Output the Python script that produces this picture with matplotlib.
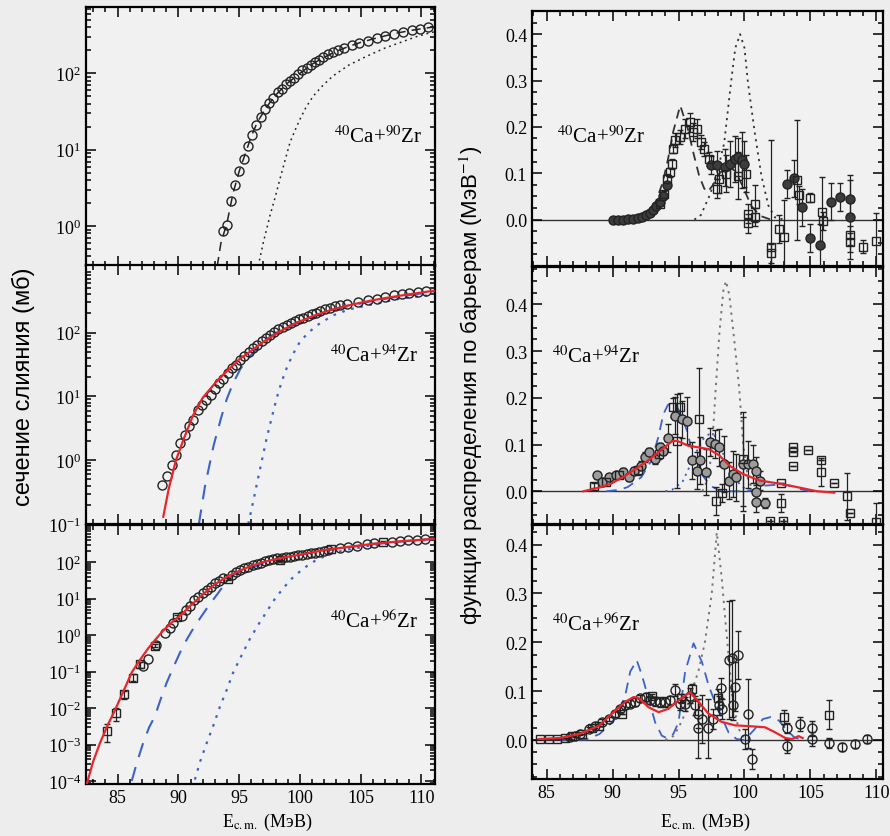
import matplotlib
matplotlib.use("Agg")
import matplotlib.pyplot as plt
from matplotlib.ticker import MultipleLocator, LogLocator, NullFormatter, FixedLocator

plt.rcParams['font.family'] = ['Liberation Serif', 'DejaVu Serif']
plt.rcParams['mathtext.fontset'] = 'stix'

# ---------------- left column: fusion cross sections (mb) ----------------
# 40Ca + 90Zr
lt_e = [93.64, 94.02, 94.32, 94.68, 95.0, 95.37, 95.7, 96.03, 96.38, 96.77, 97.12, 97.48, 97.8,
        98.16, 98.5, 98.85, 99.18, 99.53, 99.86, 100.2, 100.55, 100.9, 101.2, 101.6, 101.9, 102.3,
        102.7, 103.1, 103.6, 104.25, 104.9, 105.6, 106.3, 107.0, 107.7, 108.5, 109.2, 109.9, 110.55]
lt_sig = [0.87, 1.04, 2.1, 3.5, 5.3, 7.5, 11.3, 15.5, 21, 27, 34, 41.5, 48, 57, 63, 72, 79, 88, 97,
          110, 119, 130, 141, 152, 163, 178, 190, 202, 214, 234, 251, 269, 290, 309, 330, 351, 368, 380, 400]
lt_cc_e = [93.2, 93.5, 94.0, 94.5, 95.0, 95.5, 96.0, 96.5, 97.0, 97.5, 98.0, 99.0, 100.0, 101.0,
           102.0, 103.0, 104.0, 105.0, 106.0, 107.0, 108.0, 109.0, 110.0, 111.0]
lt_cc_sig = [0.3, 0.6, 1.1, 2.7, 5.2, 8.8, 15, 23, 31, 41, 52, 75, 100, 132, 163, 195, 225, 255,
             282, 310, 338, 362, 385, 405]
lt_nc_e = [96.57, 97.0, 97.53, 98.0, 98.35, 98.8, 99.18, 99.6, 100.0, 100.5, 101.1, 101.9, 102.7,
           104.0, 105.5, 107.0, 108.2, 109.5, 110.7, 111.1]
lt_nc_sig = [0.3, 0.62, 1.36, 2.5, 4.1, 7.5, 12.4, 18, 25, 36, 50.5, 70, 92, 128, 168, 215, 252,
             300, 340, 352]

# 40Ca + 94Zr
lm_e = [88.68, 89.04, 89.45, 89.78, 90.13, 90.54, 90.9, 91.2, 91.6, 91.96, 92.3, 92.68, 93.0, 93.36,
        93.69, 94.05, 94.38, 94.74, 95.07, 95.42, 95.78, 96.1, 96.49, 96.85, 97.2, 97.5, 97.9, 98.2,
        98.57, 98.9, 99.26, 99.59, 99.94, 100.27, 100.63, 100.96, 101.3, 101.64, 102.05, 102.46,
        102.88, 103.29, 103.84, 104.8, 105.6, 106.3, 107.0, 107.7, 108.4, 109.0, 109.7, 110.4]
lm_sig = [0.41, 0.56, 0.85, 1.2, 1.86, 2.5, 3.4, 4.3, 6.2, 7.3, 8.7, 10.4, 13.3, 16, 19, 23, 27.5,
          31.6, 37, 43, 50, 58, 65, 73, 83, 93, 103, 113, 123, 133, 144, 152, 161, 171, 182, 193,
          205, 218, 231, 243, 258, 267, 277, 302, 320, 340, 360, 383, 406, 422, 432, 450]
lm_red_e = [88.76, 89.2, 89.8, 90.5, 91.2, 92.0, 93.0, 94.0, 95.0, 96.0, 97.0, 98.0, 99.0, 100.0,
            101.0, 102.0, 103.0, 104.0, 105.0, 106.0, 107.0, 108.0, 109.0, 110.0, 111.0]
lm_red_sig = [0.13, 0.35, 1.0, 2.3, 5.0, 9.5, 16, 25, 38, 52, 72, 95, 122, 150, 180, 210, 240, 268,
              295, 322, 348, 373, 400, 425, 455]
lm_cc_e = [91.69, 92.2, 92.9, 93.5, 94.0, 94.5, 95.1, 96.0, 96.7, 97.5, 98.6, 99.5, 100.5, 102.0,
           104.0, 106.0, 108.0, 110.0, 111.0]
lm_cc_sig = [0.1, 0.4, 1.7, 4.5, 9.3, 16, 27, 45, 63, 85, 116, 138, 163, 205, 262, 315, 365, 412, 438]
lm_nc_e = [95.75, 96.1, 96.44, 96.85, 97.26, 97.7, 98.08, 98.5, 98.9, 99.4, 100.0, 100.7, 101.4,
           102.7, 104.0, 105.5, 107.0, 108.2, 109.5, 110.9]
lm_nc_sig = [0.1, 0.2, 0.41, 0.95, 2.2, 4.8, 9.3, 17, 27.5, 45, 72, 100, 130, 186, 230, 267, 305,
             340, 365, 390]

# 40Ca + 96Zr
lb_c_e = [87.1, 87.47, 88.2, 88.89, 89.3, 89.57, 90.27, 90.62, 90.95, 91.3, 91.64, 92.0, 92.33,
          92.68, 93.0, 93.36, 93.7, 94.38, 94.73, 95.07, 95.42, 95.75, 96.1, 96.44, 96.79, 97.1,
          97.48, 97.8, 98.1, 98.5, 98.85, 99.2, 99.53, 99.85, 100.2, 100.55, 100.9, 101.25, 101.6,
          101.95, 102.3, 103.3, 103.97, 104.66, 105.5, 106.1, 107.54, 108.2, 108.9, 109.6, 110.3]
lb_c_sig = [0.14, 0.22, 0.55, 1.15, 1.6, 2.1, 3.4, 4.9, 6.5, 9.2, 11.4, 14.1, 17.3, 21.5, 26.7, 31,
            37, 45, 53, 60, 68, 75, 83, 90, 97, 106, 113, 121, 128, 132, 137, 143, 149, 155, 162,
            169, 176, 184, 192, 205, 220, 249, 265, 288, 320, 335, 363, 382, 397, 406, 422]
lb_s_e = [84.1, 84.87, 85.55, 86.29, 86.84, 88.07, 89.9, 94.1, 98.35, 102.55, 106.8]
lb_s_sig = [0.0024, 0.0074, 0.024, 0.069, 0.16, 0.52, 3.2, 35, 113, 238, 357]
lb_s_err = [0.0012, 0.003, 0.006, 0.015, 0.03, 0.05, 0.3, 2, 6, 10, 15]
lb_red_e = [82.45, 83.0, 83.55, 84.2, 84.8, 85.5, 86.16, 86.8, 87.5, 88.1, 88.76, 89.5, 90.3, 91.0,
            92.0, 93.0, 94.0, 95.0, 96.0, 97.0, 98.0, 99.0, 100.0, 102.0, 104.0, 106.0, 108.0, 110.0, 111.0]
lb_red_sig = [8e-5, 3.5e-4, 1.1e-3, 3.5e-3, 9e-3, 0.03, 0.095, 0.2, 0.43, 0.75, 1.35, 2.3, 3.8, 6.5,
              13, 25, 40, 58, 80, 102, 122, 142, 162, 215, 265, 320, 370, 415, 440]
lb_cc_e = [86.16, 86.6, 87.1, 87.6, 88.07, 88.5, 89.04, 89.7, 90.4, 91.1, 91.78, 92.5, 93.15, 93.8,
           94.5, 95.5, 97.0, 99.0, 102.0, 106.0, 110.0, 111.0]
lb_cc_sig = [1e-4, 3.3e-4, 1.1e-3, 3e-3, 6e-3, 0.016, 0.05, 0.16, 0.52, 1.3, 2.9, 6.5, 12.6, 25, 45,
             60, 95, 140, 212, 318, 413, 437]
lb_nc_e = [91.36, 91.8, 92.33, 92.9, 93.42, 94.0, 94.51, 95.2, 95.89, 96.6, 97.26, 97.9, 98.63, 99.3,
           100.0, 100.7, 101.4, 102.7, 104.0, 105.5, 107.0, 108.2, 109.5, 110.8]
lb_nc_sig = [1.1e-4, 3.5e-4, 1.1e-3, 3.5e-3, 0.011, 0.033, 0.095, 0.28, 0.8, 2.0, 4.4, 9.5, 19.5, 35,
             56, 85, 118, 180, 225, 277, 315, 342, 380, 422]

# ---------------- right column: barrier distributions (1/MeV) ----------------
# 40Ca + 90Zr
rt_f_e = [90.0, 90.38, 90.77, 91.15, 91.54, 91.92, 92.26, 92.57, 92.82, 93.08, 93.33, 93.59, 93.8,
          94.1, 97.44, 97.9, 98.5, 98.9, 99.3, 99.5, 99.8, 100.0, 103.2, 103.72, 104.36, 105.0,
          105.7, 106.55, 107.25, 107.97, 107.97]
rt_f_v = [0.0, 0.0, 0.0, 0.001, 0.002, 0.003, 0.006, 0.009, 0.014, 0.021, 0.029, 0.039, 0.052, 0.075,
          0.118, 0.117, 0.113, 0.12, 0.131, 0.135, 0.128, 0.12, 0.077, 0.089, 0.027, -0.04, -0.055,
          0.039, 0.049, 0.045, 0.006]
rt_f_err = [0, 0, 0, 0, 0, 0, 0, 0, 0, 0, 0, 0, 0, 0, 0.02, 0.03, 0.04, 0.05, 0.05, 0.04, 0.06,
            0.05, 0.03, 0.04, 0.04, 0.03, 0.045, 0.04, 0.03, 0.04, 0.09]
rt_s_e = [93.59, 93.9, 94.1, 94.36, 94.5, 94.6, 94.75, 95.13, 95.52, 95.9, 96.1, 96.4, 96.67, 96.92,
          97.3, 97.9, 98.1, 98.6, 99.5, 100.13, 100.3, 100.3, 100.8, 100.8, 102.0, 102.0, 102.6,
          103.0, 104.0, 104.1, 105.0, 105.9, 105.95, 107.97, 107.97, 108.99, 109.96]
rt_s_v = [0.034, 0.056, 0.088, 0.102, 0.12, 0.153, 0.171, 0.178, 0.196, 0.21, 0.189, 0.196, 0.167,
          0.153, 0.131, 0.067, 0.088, 0.099, 0.095, 0.099, 0.013, -0.008, 0.034, 0.006, -0.058,
          -0.073, -0.02, -0.037, 0.085, 0.053, 0.047, 0.017, -0.003, -0.034, -0.049, -0.058, -0.046]
rt_s_err = [0.005, 0.005, 0.01, 0.01, 0.01, 0.01, 0.015, 0.015, 0.02, 0.02, 0.02, 0.02, 0.015, 0.015,
            0.015, 0.02, 0.03, 0.04, 0.05, 0.04, 0.02, 0.02, 0.04, 0.02, 0.23, 0.02, 0.03, 0.08,
            0.13, 0.02, 0.01, 0.075, 0.02, 0.02, 0.02, 0.015, 0.06]
rt_cc_e = [91.0, 92.0, 92.8, 93.3, 93.8, 94.2, 94.6, 95.13, 95.7, 96.17, 96.56, 96.95, 97.2, 97.6,
           98.1, 98.7, 99.3, 99.9, 100.5, 101.2, 102.0]
rt_cc_v = [0.0, 0.005, 0.02, 0.04, 0.08, 0.13, 0.19, 0.246, 0.196, 0.139, 0.095, 0.067, 0.06, 0.074,
           0.1, 0.115, 0.105, 0.07, 0.03, 0.008, 0.0]
rt_nc_e = [96.2, 96.7, 97.4, 98.0, 98.46, 98.98, 99.3, 99.67, 100.0, 100.26, 100.77, 101.28, 101.8,
           102.3, 103.0]
rt_nc_v = [0.0, 0.01, 0.055, 0.11, 0.165, 0.296, 0.37, 0.40, 0.37, 0.296, 0.189, 0.095, 0.031,
           0.005, 0.0]

# 40Ca + 94Zr
rm_c_e = [88.85, 89.23, 89.74, 90.25, 90.77, 91.28, 91.66, 92.18, 92.43, 92.8, 93.2, 93.58, 93.85,
          94.23, 94.74, 95.25, 95.64, 96.0, 96.4, 96.66, 97.05, 97.4, 97.8, 98.08, 98.46, 98.79,
          99.1, 99.36, 99.87, 100.25, 100.64, 100.9, 101.2, 100.9, 100.85, 101.56]
rm_c_v = [0.034, 0.019, 0.030, 0.034, 0.041, 0.030, 0.044, 0.055, 0.073, 0.083, 0.069, 0.094, 0.087,
          0.115, 0.162, 0.154, 0.151, 0.066, 0.044, 0.066, 0.041, 0.105, 0.101, 0.094, 0.058, 0.023,
          0.037, 0.030, 0.058, 0.058, 0.058, 0.044, 0.023, -0.002, -0.024, -0.025]
rm_c_err = [0.008, 0.008, 0.008, 0.008, 0.008, 0.008, 0.008, 0.01, 0.01, 0.01, 0.01, 0.01, 0.01,
            0.03, 0.04, 0.04, 0.05, 0.04, 0.04, 0.05, 0.05, 0.03, 0.03, 0.04, 0.06, 0.04, 0.05, 0.05,
            0.1, 0.05, 0.04, 0.03, 0.02, 0.02, 0.02, 0.01]
rm_s_e = [88.6, 89.5, 90.5, 91.9, 93.5, 94.6, 94.87, 95.1, 96.54, 97.87, 98.3, 99.87, 101.9, 102.8,
          102.8, 102.9, 103.7, 103.7, 103.7, 104.8, 105.8, 105.8, 106.8, 107.8, 108.0, 110.0]
rm_s_v = [0.012, 0.02, 0.035, 0.045, 0.08, 0.18, 0.108, 0.18, 0.154, -0.02, -0.004, 0.069, -0.064,
          0.018, -0.025, -0.063, 0.094, 0.083, 0.055, 0.088, 0.066, 0.041, 0.017, -0.011, -0.047, -0.065]
rm_s_err = [0.005, 0.005, 0.005, 0.01, 0.01, 0.02, 0.1, 0.03, 0.11, 0.03, 0.02, 0.1, 0.0, 0.0, 0.02,
            0.0, 0.0, 0.0, 0.0, 0.0, 0.0, 0.03, 0.0, 0.05, 0.0, 0.04]
rm_red_e = [87.8, 89.0, 89.87, 90.9, 91.92, 92.6, 93.2, 93.9, 94.5, 94.87, 95.3, 95.77, 96.54, 97.3,
            98.08, 98.85, 99.87, 101.15, 102.7, 103.97, 105.5, 106.8]
rm_red_v = [0.0, 0.008, 0.016, 0.032, 0.051, 0.064, 0.077, 0.093, 0.107, 0.108, 0.103, 0.097, 0.094,
            0.09, 0.077, 0.055, 0.037, 0.023, 0.016, 0.009, 0.0, -0.003]
rm_cc_e = [89.5, 90.5, 91.15, 92.18, 92.95, 93.46, 93.85, 94.2, 94.6, 95.0, 95.64, 95.9, 96.3, 96.8,
           97.4, 98.0, 99.0, 100.0, 100.8, 101.5, 102.5, 103.5, 104.3, 105.0]
rm_cc_v = [0.0, 0.003, 0.009, 0.03, 0.066, 0.115, 0.165, 0.185, 0.19, 0.175, 0.13, 0.10, 0.07, 0.035,
           0.012, 0.003, 0.0, 0.0, 0.004, 0.012, 0.014, 0.012, 0.004, 0.0]
rm_c2_e = [94.0, 94.5, 95.3, 96.28, 96.8, 97.3, 97.7, 98.1, 98.6, 99.2, 99.8, 100.4]
rm_c2_v = [0.0, 0.003, 0.02, 0.08, 0.11, 0.122, 0.12, 0.1, 0.065, 0.03, 0.01, 0.0]
rm_nc_e = [96.8, 97.3, 97.6, 97.82, 98.1, 98.4, 98.6, 98.85, 99.2, 99.6, 99.9, 100.3, 100.8]
rm_nc_v = [0.0, 0.03, 0.12, 0.22, 0.34, 0.43, 0.45, 0.42, 0.33, 0.22, 0.1, 0.02, 0.0]

# 40Ca + 96Zr
rb_c_e = [86.79, 87.17, 87.55, 88.18, 88.69, 89.2, 89.7, 90.2, 90.6, 90.96, 91.34, 91.72, 92.1, 92.5,
          92.86, 93.24, 93.6, 94.0, 94.37, 94.75, 95.13, 95.5, 95.9, 96.26, 96.5, 96.77, 96.5, 97.27,
          97.65, 98.03, 98.28, 98.2, 98.79, 99.04, 99.29, 99.54, 99.16, 100.3, 100.05, 100.55, 103.2,
          103.2, 104.2, 105.15, 105.15, 106.4, 107.37, 108.4, 109.3]
rb_c_v = [0.0058, 0.0089, 0.0124, 0.0227, 0.028, 0.037, 0.043, 0.054, 0.064, 0.071, 0.074, 0.078,
          0.085, 0.088, 0.081, 0.079, 0.078, 0.078, 0.081, 0.102, 0.074, 0.074, 0.091, 0.071, 0.054,
          0.043, 0.024, 0.024, 0.043, 0.071, 0.064, 0.107, 0.164, 0.167, 0.109, 0.174, 0.071, 0.054,
          0.002, -0.039, 0.024, -0.012, 0.033, 0.024, 0.002, -0.006, -0.015, -0.008, 0.002]
rb_c_err = [0.003, 0.003, 0.003, 0.004, 0.004, 0.005, 0.005, 0.006, 0.006, 0.007, 0.007, 0.008,
            0.008, 0.008, 0.008, 0.01, 0.01, 0.01, 0.01, 0.012, 0.012, 0.015, 0.015, 0.02, 0.03,
            0.05, 0.06, 0.06, 0.02, 0.02, 0.02, 0.02, 0.12, 0.12, 0.05, 0.05, 0.03, 0.07, 0.02, 0.02,
            0.01, 0.015, 0.015, 0.015, 0.015, 0.01, 0.008, 0.008, 0.008]
rb_s_e = [84.52, 85.15, 85.78, 86.4, 86.9, 87.68, 88.44, 88.94, 90.71, 93.0, 95.2, 96.0, 98.0, 103.0, 106.4]
rb_s_v = [0.002, 0.002, 0.002, 0.004, 0.0076, 0.0124, 0.024, 0.0296, 0.054, 0.09, 0.085, 0.105,
          0.085, 0.047, 0.052]
rb_s_err = [0, 0, 0, 0, 0, 0, 0, 0, 0, 0.005, 0.01, 0.01, 0.02, 0.015, 0.03]
rb_red_e = [84.4, 86.0, 87.5, 89.0, 90.2, 90.96, 91.6, 91.97, 92.73, 93.49, 94.24, 95.0, 95.89, 96.52,
            97.27, 98.28, 99.29, 100.55, 101.56, 102.3, 103.1, 103.6, 104.1, 104.4]
rb_red_v = [0.002, 0.004, 0.0124, 0.0296, 0.06, 0.078, 0.088, 0.086, 0.067, 0.057, 0.064, 0.081,
            0.098, 0.078, 0.054, 0.037, 0.030, 0.028, 0.026, 0.016, 0.004, 0.002, 0.008, 0.004]
rb_cc_e = [86.0, 88.0, 89.0, 89.96, 90.5, 90.96, 91.34, 91.84, 92.22, 92.73, 93.23, 93.73, 94.1, 94.6,
           95.0, 95.5, 96.14, 96.77, 97.3, 97.8, 98.3, 98.8, 99.4, 100.0, 100.7, 101.4, 102.0, 102.6,
           103.2, 103.8, 104.5]
rb_cc_v = [0.0, 0.001, 0.012, 0.036, 0.06, 0.091, 0.14, 0.163, 0.133, 0.085, 0.036, 0.009, 0.004,
           0.012, 0.036, 0.14, 0.198, 0.16, 0.11, 0.075, 0.045, 0.015, 0.002, 0.0, 0.02, 0.043, 0.047,
           0.04, 0.02, 0.005, 0.0]
rb_nc_e = [94.0, 94.6, 95.0, 95.6, 96.0, 96.5, 97.0, 97.52, 97.9, 98.28, 98.5, 98.8, 99.1, 99.55,
           100.0, 100.5]
rb_nc_v = [0.0, 0.008, 0.025, 0.06, 0.1, 0.14, 0.2, 0.30, 0.425, 0.33, 0.26, 0.17, 0.08, 0.023,
           0.003, 0.0]

labels = [r'$^{40}$Ca+$^{90}$Zr', r'$^{40}$Ca+$^{94}$Zr', r'$^{40}$Ca+$^{96}$Zr']

RED = '#e8252b'
BLUE = '#3d62c8'
BG = '#ededed'

fig = plt.figure(figsize=(8.9, 8.37), dpi=100, facecolor=BG)

left_pos = [[0.0966, 0.681, 0.392, 0.3094],
            [0.0966, 0.3728, 0.392, 0.3094],
            [0.0966, 0.0621, 0.392, 0.3094]]
right_pos = [[0.5978, 0.681, 0.3944, 0.3047],
             [0.5978, 0.3728, 0.3944, 0.307],
             [0.5978, 0.068, 0.3944, 0.3035]]


def frame(ax):
    ax.set_facecolor('#f1f1f1')
    for s in ax.spines.values():
        s.set_linewidth(1.6)
    ax.tick_params(which='both', direction='in', top=True, right=True, labelsize=13, width=1.1)
    ax.tick_params(which='major', length=7)
    ax.tick_params(which='minor', length=3.5)


def circ(ax, x, y, err=None, face='none', ms=6.5):
    ax.errorbar(x, y, yerr=err, fmt='o', ms=ms, mfc=face, mec='#222222', mew=1.0,
                ecolor='#222222', elinewidth=0.9, capsize=2.5, zorder=4)


def sq(ax, x, y, err=None):
    ax.errorbar(x, y, yerr=err, fmt='s', ms=5.5, mfc='none', mec='#222222', mew=1.0,
                ecolor='#222222', elinewidth=0.9, capsize=2.5, zorder=4)


# ---- left column ----
axl = [fig.add_axes(p) for p in left_pos]
ylims = [(0.3, 740), (0.1, 1150), (8.3e-5, 1050)]
yticks = [[1, 10, 100], [0.1, 1, 10, 100], [1e-4, 1e-3, 1e-2, 1e-1, 1, 10, 100]]
for ax, yl, yt in zip(axl, ylims, yticks):
    frame(ax)
    ax.set_yscale('log')
    ax.set_xlim(82.4, 111.1)
    ax.set_ylim(*yl)
    ax.yaxis.set_major_locator(FixedLocator(yt))
    ax.yaxis.set_minor_locator(LogLocator(base=10, subs=range(2, 10), numticks=20))
    ax.yaxis.set_minor_formatter(NullFormatter())
    ax.xaxis.set_major_locator(MultipleLocator(5))
    ax.xaxis.set_minor_locator(MultipleLocator(1))
    if ax is not axl[-1]:
        ax.tick_params(labelbottom=False)

ax = axl[0]
ax.plot(lt_cc_e, lt_cc_sig, color='#222222', lw=1.1, dashes=(6, 4))
ax.plot(lt_nc_e, lt_nc_sig, color='#222222', lw=1.1, dashes=(1.2, 2.5))
circ(ax, lt_e, lt_sig)

ax = axl[1]
ax.plot(lm_cc_e, lm_cc_sig, color=BLUE, lw=1.5, dashes=(7, 5))
ax.plot(lm_nc_e, lm_nc_sig, color=BLUE, lw=1.6, dashes=(1.2, 3))
circ(ax, lm_e, lm_sig)
ax.plot(lm_red_e, lm_red_sig, color=RED, lw=1.6, zorder=5)

ax = axl[2]
ax.plot(lb_cc_e, lb_cc_sig, color=BLUE, lw=1.5, dashes=(7, 5))
ax.plot(lb_nc_e, lb_nc_sig, color=BLUE, lw=1.6, dashes=(1.2, 3))
circ(ax, lb_c_e, lb_c_sig)
sq(ax, lb_s_e, lb_s_sig, lb_s_err)
ax.plot(lb_red_e, lb_red_sig, color=RED, lw=1.6, zorder=5)

label_xy_left = [(0.71, 0.50), (0.70, 0.65), (0.70, 0.63)]
for ax, lab, (tx, ty) in zip(axl, labels, label_xy_left):
    ax.text(tx, ty, lab, transform=ax.transAxes, fontsize=15, ha='left', va='center')

# ---- right column ----
axr = [fig.add_axes(p) for p in right_pos]
rlims = [(-0.1, 0.45), (-0.07, 0.48), (-0.08, 0.44)]
for ax, yl in zip(axr, rlims):
    frame(ax)
    ax.set_xlim(83.9, 110.5)
    ax.set_ylim(*yl)
    ax.yaxis.set_major_locator(FixedLocator([0.0, 0.1, 0.2, 0.3, 0.4]))
    ax.yaxis.set_major_formatter(plt.FuncFormatter(lambda v, p: f'{v:.1f}'))
    ax.yaxis.set_minor_locator(MultipleLocator(0.025))
    ax.xaxis.set_major_locator(MultipleLocator(5))
    ax.xaxis.set_minor_locator(MultipleLocator(1))
    ax.axhline(0, color='#333333', lw=1.0, zorder=1)
    if ax is not axr[-1]:
        ax.tick_params(labelbottom=False)

ax = axr[0]
ax.plot(rt_cc_e, rt_cc_v, color='#333333', lw=1.3, dashes=(5, 3.5))
ax.plot(rt_nc_e, rt_nc_v, color='#333333', lw=1.3, dashes=(1.2, 2.5))
circ(ax, rt_f_e, rt_f_v, rt_f_err, face='#3c3c3c')
sq(ax, rt_s_e, rt_s_v, rt_s_err)

ax = axr[1]
ax.plot(rm_nc_e, rm_nc_v, color='#777777', lw=1.4, dashes=(1.2, 2.5))
ax.plot(rm_cc_e, rm_cc_v, color=BLUE, lw=1.3, dashes=(6, 4))
ax.plot(rm_c2_e, rm_c2_v, color=BLUE, lw=1.3, dashes=(1.2, 2.5))
circ(ax, rm_c_e, rm_c_v, rm_c_err, face='#9c9c9c')
sq(ax, rm_s_e, rm_s_v, rm_s_err)
ax.plot(rm_red_e, rm_red_v, color=RED, lw=1.6, zorder=5)

ax = axr[2]
ax.plot(rb_nc_e, rb_nc_v, color='#777777', lw=1.4, dashes=(1.2, 2.5))
ax.plot(rb_cc_e, rb_cc_v, color=BLUE, lw=1.3, dashes=(6, 4))
circ(ax, rb_c_e, rb_c_v, rb_c_err)
sq(ax, rb_s_e, rb_s_v, rb_s_err)
ax.plot(rb_red_e, rb_red_v, color=RED, lw=1.6, zorder=5)

label_xy_right = [(0.07, 0.51), (0.056, 0.655), (0.056, 0.61)]
for ax, lab, (tx, ty) in zip(axr, labels, label_xy_right):
    ax.text(tx, ty, lab, transform=ax.transAxes, fontsize=15, ha='left', va='center')

# ---- axis titles ----
fig.text(0.026, 0.538, 'сечение слияния (мб)', rotation=90, ha='center', va='center',
         family=['Liberation Sans', 'DejaVu Sans'], fontsize=17)
fig.text(0.529, 0.54, 'функция распределения по барьерам (МэВ$^{-1}$)', rotation=90,
         ha='center', va='center', family=['Liberation Sans', 'DejaVu Sans'], fontsize=16)
fig.text(0.30, 0.017, r'E$_{\mathrm{c.m.}}$ (МэВ)', ha='center', va='center', fontsize=13)
fig.text(0.793, 0.017, r'E$_{\mathrm{c.m.}}$ (МэВ)', ha='center', va='center', fontsize=13)

fig.savefig('out.png', dpi=100, facecolor=BG)
